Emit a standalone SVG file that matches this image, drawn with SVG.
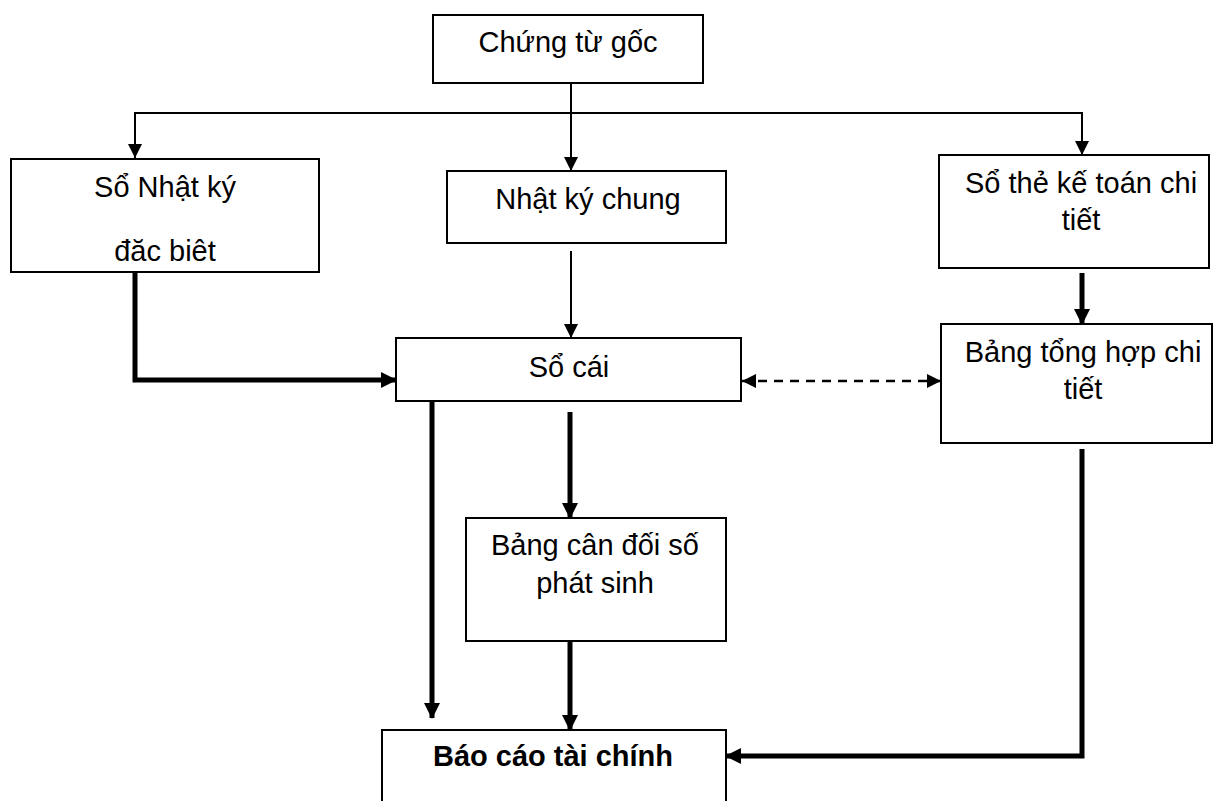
<svg xmlns="http://www.w3.org/2000/svg" width="1214" height="801" viewBox="0 0 1214 801">
<style>
.box{fill:#fff;stroke:#000;stroke-width:2}
.t{font-family:"Liberation Sans",Arial,sans-serif;font-size:29px;fill:#000;text-anchor:middle}
.b{font-weight:bold}
.thin{fill:none;stroke:#000;stroke-width:2}
.thick{fill:none;stroke:#000;stroke-width:5}
.dash{fill:none;stroke:#000;stroke-width:2.5;stroke-dasharray:9 7}
</style>
<defs>
<marker id="ah" markerUnits="userSpaceOnUse" markerWidth="14" markerHeight="14" refX="14" refY="7" orient="auto-start-reverse"><path d="M0,0 L14,7 L0,14 z" fill="#000"/></marker>
<marker id="ahk" markerUnits="userSpaceOnUse" markerWidth="16" markerHeight="16" refX="15" refY="8" orient="auto-start-reverse"><path d="M0,0 L16,8 L0,16 z" fill="#000"/></marker>
</defs>
<rect width="1214" height="801" fill="#fff"/>
<g id="connectors">
<path class="thin" d="M571,83 V171" marker-end="url(#ah)"/>
<path class="thin" d="M571,113 H135 V158" marker-end="url(#ah)"/>
<path class="thin" d="M571,113 H1082 V155" marker-end="url(#ah)"/>
<path class="thin" d="M571,251 V338" marker-end="url(#ah)"/>
<path class="thick" d="M135,272 V380 H396" marker-end="url(#ahk)"/>
<path class="dash" d="M742,381 H941" marker-start="url(#ah)" marker-end="url(#ah)"/>
<path class="thick" d="M1082,273 V324" marker-end="url(#ahk)"/>
<path class="thick" d="M432,401 V718" marker-end="url(#ahk)"/>
<path class="thick" d="M570,412 V518" marker-end="url(#ahk)"/>
<path class="thick" d="M570,641 V730" marker-end="url(#ahk)"/>
<path class="thick" d="M1082,449 V756 H726" marker-end="url(#ahk)"/>
</g>
<g id="chung-tu-goc"><rect class="box" x="433" y="15" width="270" height="68"/><text class="t" x="568" y="52">Chứng từ gốc</text></g>
<g id="so-nhat-ky"><rect class="box" x="11" y="159" width="308" height="113"/><text class="t" x="165" y="197">Sổ Nhật ký</text><text class="t" x="165" y="261">đăc biêt</text></g>
<g id="nhat-ky-chung"><rect class="box" x="447" y="171" width="279" height="72"/><text class="t" x="588" y="209">Nhật ký chung</text></g>
<g id="so-the"><rect class="box" x="939" y="155" width="270" height="113"/><text class="t" x="1081" y="193">Sổ thẻ kế toán chi</text><text class="t" x="1081" y="230">tiết</text></g>
<g id="so-cai"><rect class="box" x="396" y="338" width="345" height="63"/><text class="t" x="569" y="377">Sổ cái</text></g>
<g id="bang-tong-hop"><rect class="box" x="941" y="324" width="271" height="119"/><text class="t" x="1083" y="362">Bảng tổng hợp chi</text><text class="t" x="1083" y="399">tiết</text></g>
<g id="bang-can-doi"><rect class="box" x="466" y="518" width="260" height="123"/><text class="t" x="595" y="555">Bảng cân đối số</text><text class="t" x="595" y="593">phát sinh</text></g>
<g id="bao-cao"><rect class="box" x="382" y="730" width="344" height="100"/><text class="t b" x="553" y="766">Báo cáo tài chính</text></g>
</svg>
